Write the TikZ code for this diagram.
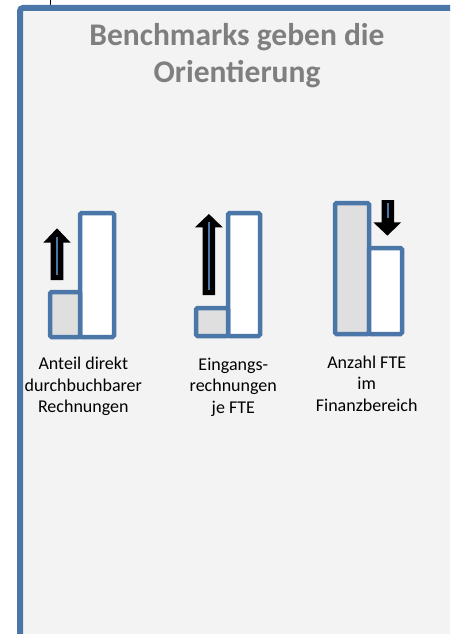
\documentclass[tikz,border=0pt]{standalone}
\usepackage{fontspec}
\setmainfont{Carlito}
\definecolor{frameblue}{RGB}{74,118,168}
\definecolor{panelfill}{RGB}{243,243,243}
\definecolor{titlegray}{RGB}{127,127,127}
\definecolor{barfill}{RGB}{223,223,223}
\tikzset{
  panel/.style={draw=frameblue, fill=panelfill, line width=6pt, rounded corners=3pt},
  barbox/.style={draw=frameblue, line width=4.5pt, rounded corners=1.5pt},
  arrowbody/.style={fill=black},
  arrowcore/.style={draw=frameblue, line width=2pt},
  caption/.style={align=center, inner sep=0pt, anchor=north, text=black,
    font=\fontsize{18}{21.5}\selectfont},
  headline/.style={align=center, inner sep=0pt, anchor=north, text=titlegray,
    font=\fontsize{31.5}{37}\selectfont\bfseries}
}
\begin{document}
\begin{tikzpicture}[x=1pt, y=-1pt]
  \useasboundingbox (0,0) rectangle (450,634);
  \clip (0,0) rectangle (450,634);
  \fill[white] (0,0) rectangle (450,634);

  % thin line entering from above
  \coordinate (tickTop) at (50,0);
  \coordinate (tickEnd) at (50,5);
  \draw[line width=0.8pt] (tickTop) -- (tickEnd);

  % the panel, running off the right and bottom edges
  \draw[panel] (20,8) rectangle (475,665);

  % title
  \node[headline] (title) at (237,23.5) {Benchmarks geben die\\Orientierung};

  % group 1: small grey bar, tall white bar, arrow up
  \draw[barbox, fill=white] (80,213) rectangle (114,337);
  \draw[barbox, fill=barfill] (50,292) rectangle (80,337);
  \fill[arrowbody] (50.7,280) -- (50.7,242.7) -- (43.3,242.7) -- (57,228.3)
    -- (70.7,242.7) -- (63.3,242.7) -- (63.3,280) -- cycle;
  \draw[arrowcore] (57,237) -- (57,275);
  \node[caption] (capA) at (83.3,357) {Anteil direkt\\durchbuchbarer\\Rechnungen};

  % group 2: small grey bar, tall white bar, long arrow up
  \draw[barbox, fill=white] (228,213) rectangle (260,336);
  \draw[barbox, fill=barfill] (196,308) rectangle (228,336);
  \fill[arrowbody] (202.7,295) -- (202.7,227.3) -- (195,227.3) -- (208.9,214)
    -- (222.7,227.3) -- (215,227.3) -- (215,295) -- cycle;
  \draw[arrowcore] (208.9,222) -- (208.9,290);
  \node[caption] (capB) at (233.3,357.5) {Eingangs-\\rechnungen\\je FTE};

  % group 3: tall grey bar, shorter white bar, arrow down
  \draw[barbox, fill=barfill] (335,203) rectangle (369,334);
  \draw[barbox, fill=white] (369,248) rectangle (402,334);
  \fill[arrowbody] (381.7,200) -- (381.7,222.3) -- (373.3,222.3) -- (387.5,235.7)
    -- (401,222.3) -- (394,222.3) -- (394,200) -- cycle;
  \draw[arrowcore] (387.5,203) -- (387.5,218);
  \node[caption] (capC) at (366.7,355.5) {Anzahl FTE\\im\\Finanzbereich};
\end{tikzpicture}
\end{document}
